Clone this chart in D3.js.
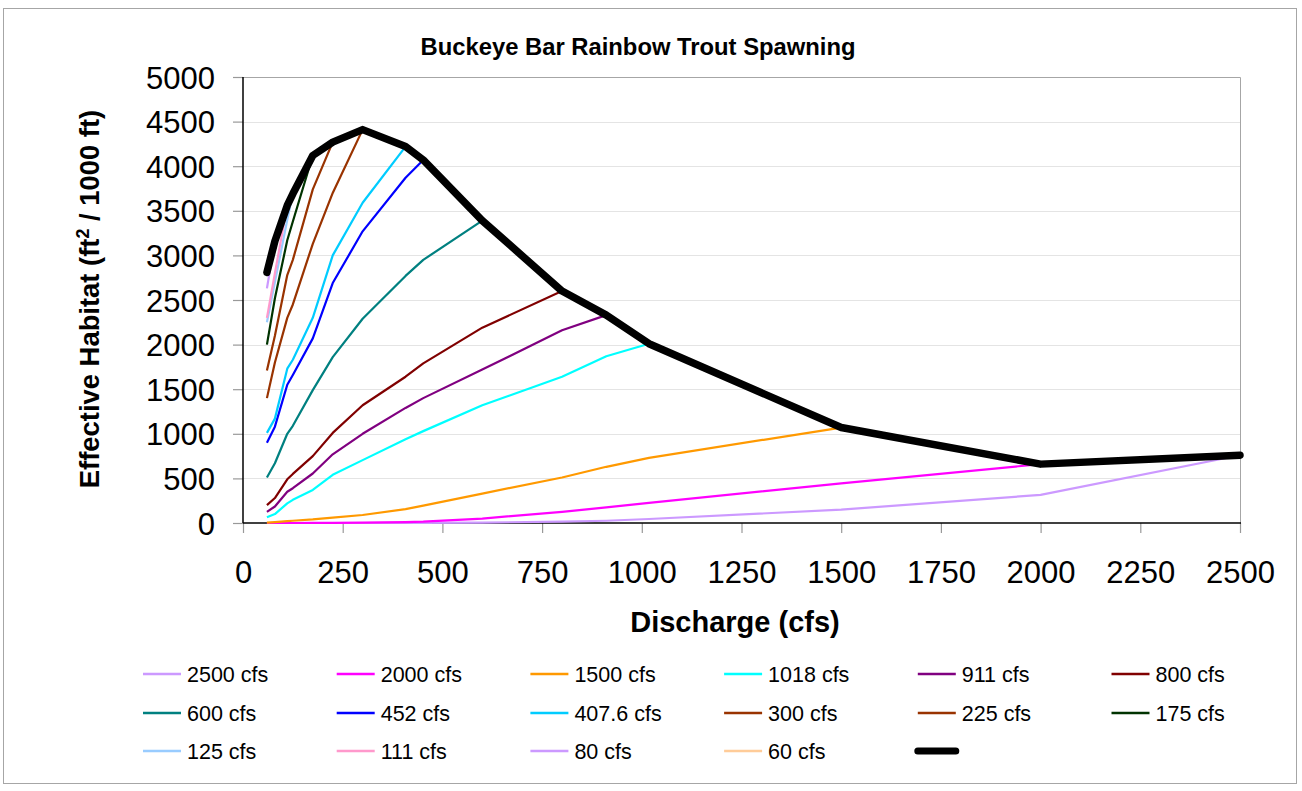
<!DOCTYPE html>
<html>
<head>
<meta charset="utf-8">
<script src="https://cdn.jsdelivr.net/npm/d3@7"></script>
<style>
  html, body { margin: 0; padding: 0; background: #fff; }
  svg { display: block; font-family: "Liberation Sans", Arial, sans-serif; }
</style>
</head>
<body>
<svg id="chart" width="1302" height="791"></svg>
<script>
// Discharge values (cfs) at which habitat was computed
const flows = [60, 80, 111, 125, 175, 225, 300, 407.6, 452, 600, 800, 911, 1018, 1500, 2000, 2500];

// Effective habitat (ft² / 1000 ft) for each modelled flow, listed against the discharges above
const h2500 = [0, 0, 0, 0, 0, 0, 0, 1, 2, 5, 15, 25, 45, 150, 315, 760];
const h2000 = [0, 0, 0, 0, 1, 2, 4, 10, 15, 50, 125, 175, 225, 445, 660];
const h1500 = [5, 10, 20, 25, 40, 60, 90, 155, 195, 330, 510, 630, 730, 1070];
const h1018 = [65, 100, 220, 260, 370, 540, 705, 940, 1030, 1320, 1640, 1870, 2010];
const h911  = [125, 185, 350, 390, 555, 770, 1000, 1290, 1400, 1720, 2160, 2330];
const h800  = [200, 280, 490, 550, 750, 1010, 1320, 1640, 1790, 2190, 2600];
const h600  = [510, 670, 1000, 1090, 1490, 1860, 2290, 2770, 2950, 3390];
const h452  = [900, 1080, 1550, 1660, 2070, 2690, 3270, 3870, 4070];
const h4076 = [1010, 1170, 1730, 1830, 2300, 3000, 3590, 4220];
const h300  = [1400, 1800, 2300, 2450, 3130, 3700, 4410];
const h225  = [1710, 2100, 2780, 2950, 3740, 4270];
const h175  = [2000, 2520, 3170, 3380, 4120];
const h125  = [2250, 2700, 3400, 3690];
const h111  = [2300, 2800, 3560];
const h80   = [2630, 3160];
const h60   = [2810];
// Habitat at each discharge when the flow matches the modelled flow
const envelope = [2810, 3160, 3560, 3690, 4120, 4270, 4410, 4220, 4070, 3390, 2600, 2330, 2010, 1070, 660, 760];

const seriesLabels = ["2500 cfs", "2000 cfs", "1500 cfs", "1018 cfs", "911 cfs", "800 cfs",
                      "600 cfs", "452 cfs", "407.6 cfs", "300 cfs", "225 cfs", "175 cfs",
                      "125 cfs", "111 cfs", "80 cfs", "60 cfs"];
const seriesValues = [h2500, h2000, h1500, h1018, h911, h800, h600, h452, h4076, h300, h225, h175, h125, h111, h80, h60];
const seriesColors = ["#cc99ff", "#ff00ff", "#ff9900", "#00ffff", "#800080", "#800000",
                      "#008080", "#0000ff", "#00ccff", "#993300", "#993300", "#003300",
                      "#99ccff", "#ff99cc", "#cc99ff", "#ffcc99"];

const xTicks = [0, 250, 500, 750, 1000, 1250, 1500, 1750, 2000, 2250, 2500];
const yTicks = [0, 500, 1000, 1500, 2000, 2500, 3000, 3500, 4000, 4500, 5000];

const svg = d3.select("#chart");
const plot = { left: 243, right: 1240, top: 77, bottom: 523 };

// Chart area frame
svg.append("rect")
  .attr("x", 3.5).attr("y", 8.5).attr("width", 1293).attr("height", 775)
  .attr("fill", "#fff").attr("stroke", "#a6a6a6").attr("stroke-width", 1);

const x = d3.scaleLinear().domain([0, 2500]).range([plot.left, plot.right]);
const y = d3.scaleLinear().domain([0, 5000]).range([plot.bottom, plot.top]);

// Gridlines
svg.append("g").selectAll("line").data(yTicks.slice(1)).join("line")
  .attr("x1", plot.left).attr("x2", plot.right)
  .attr("y1", d => Math.round(y(d)) + 0.5).attr("y2", d => Math.round(y(d)) + 0.5)
  .attr("stroke", "#e4e4e4").attr("stroke-width", 1);

// Plot area border (top/right)
svg.append("path")
  .attr("d", `M${plot.left},${plot.top + 0.5}H${plot.right + 0.5}V${plot.bottom}`)
  .attr("fill", "none").attr("stroke", "#a6a6a6").attr("stroke-width", 1);

// Axes
const xAxis = d3.axisBottom(x).tickValues(xTicks).tickSize(10).tickPadding(28).tickFormat(d3.format("d"));
const yAxis = d3.axisLeft(y).tickValues(yTicks).tickSize(10).tickPadding(18).tickFormat(d3.format("d"));

const gx = svg.append("g").attr("transform", `translate(0,${plot.bottom})`).call(xAxis);
const gy = svg.append("g").attr("transform", `translate(${plot.left},0)`).call(yAxis);
[gx, gy].forEach(g => {
  g.select(".domain").remove();
  g.selectAll(".tick line").attr("stroke", "#999").attr("stroke-width", 1.2);
  g.selectAll(".tick text").attr("fill", "#000").style("font-size", "31px")
    .style("font-family", "'Liberation Sans', Arial, sans-serif");
});
gy.selectAll(".tick text").attr("dy", "0.36em");

svg.append("line").attr("x1", plot.left).attr("x2", plot.right + 1)
  .attr("y1", plot.bottom).attr("y2", plot.bottom).attr("stroke", "#000").attr("stroke-width", 1.5);
svg.append("line").attr("x1", plot.left).attr("x2", plot.left)
  .attr("y1", plot.top).attr("y2", plot.bottom).attr("stroke", "#000").attr("stroke-width", 1.5);

// Series lines
const line = d3.line().x(d => x(d[0])).y(d => y(d[1]));
const seriesG = svg.append("g");
seriesValues.forEach((vals, i) => {
  const pts = vals.map((v, k) => [flows[k], v]);
  if (pts.length < 2) return;
  seriesG.append("path")
    .attr("d", line(pts))
    .attr("fill", "none")
    .attr("stroke", seriesColors[i])
    .attr("stroke-width", 2.2)
    .attr("stroke-linejoin", "round");
});

// Envelope of maximum habitat
svg.append("path")
  .attr("d", line(envelope.map((v, k) => [flows[k], v])))
  .attr("fill", "none").attr("stroke", "#000").attr("stroke-width", 7.5)
  .attr("stroke-linejoin", "round").attr("stroke-linecap", "round");

// Titles
svg.append("text").attr("x", 638).attr("y", 55).attr("text-anchor", "middle")
  .style("font-size", "23.8px").style("font-weight", "bold").text("Buckeye Bar Rainbow Trout Spawning");

svg.append("text").attr("x", 735).attr("y", 632).attr("text-anchor", "middle")
  .style("font-size", "29px").style("font-weight", "bold").text("Discharge (cfs)");

const yt = svg.append("text").attr("transform", "translate(99,299) rotate(-90)")
  .attr("text-anchor", "middle").style("font-size", "27.4px").style("font-weight", "bold");
yt.append("tspan").text("Effective Habitat (ft");
yt.append("tspan").attr("baseline-shift", "super").style("font-size", "18px").text("2");
yt.append("tspan").text(" / 1000 ft)");

// Legend: six columns, three rows
const legendItems = seriesLabels.map((t, i) => ({ label: t, color: seriesColors[i], width: 2.5 }));
legendItems.push({ label: "", color: "#000", width: 7 });
const leg = svg.append("g");
legendItems.forEach((d, i) => {
  const col = i % 6, row = Math.floor(i / 6);
  const lx = 143 + col * 193.7;
  const ly = [674, 713, 751][row];
  leg.append("line").attr("x1", lx).attr("x2", lx + 38).attr("y1", ly).attr("y2", ly)
    .attr("stroke", d.color).attr("stroke-width", d.width)
    .attr("stroke-linecap", d.label ? "butt" : "round");
  if (d.label) {
    leg.append("text").attr("x", lx + 44).attr("y", ly).attr("dy", "0.36em")
      .style("font-size", "21.5px").text(d.label);
  }
});
</script>
</body>
</html>
